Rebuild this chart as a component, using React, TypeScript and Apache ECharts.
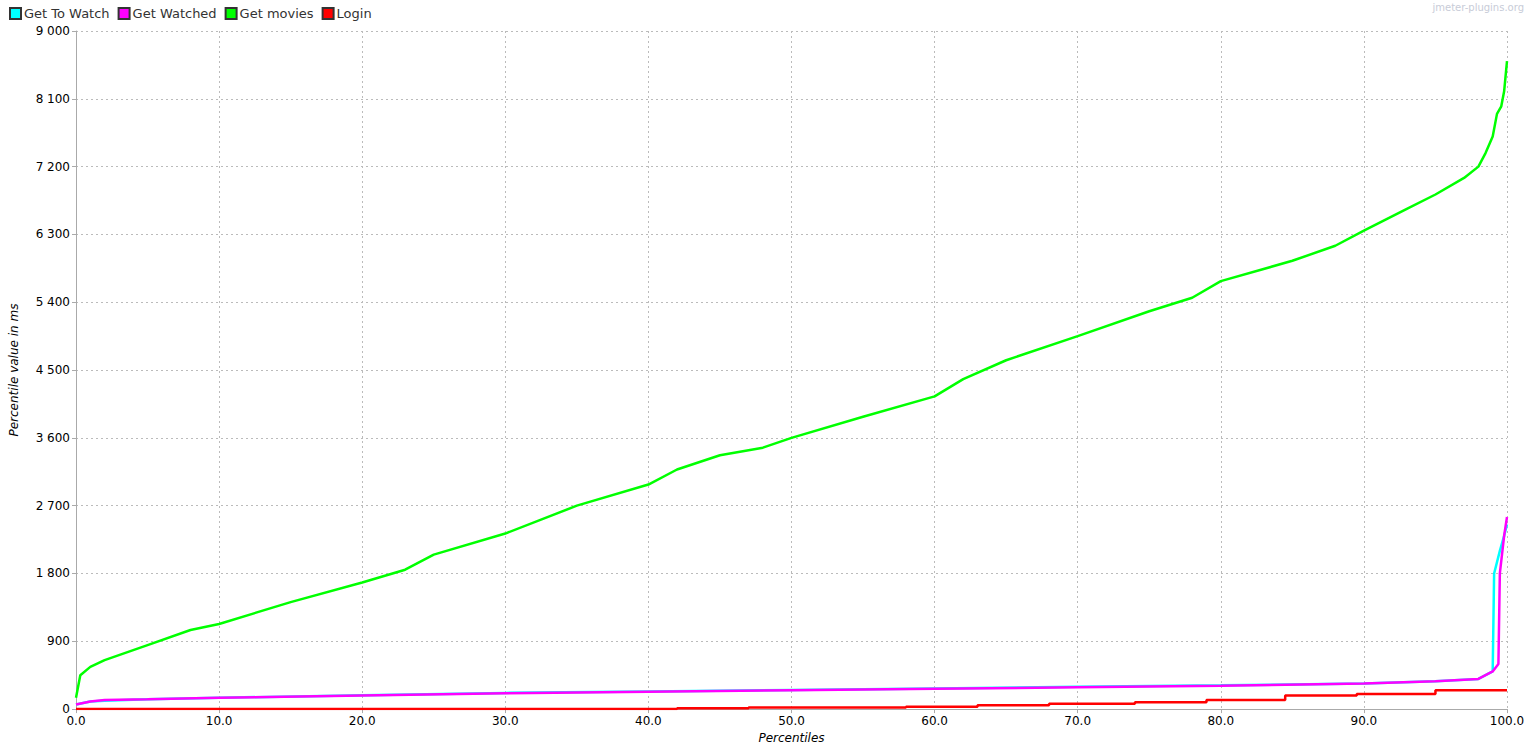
import React, { useEffect, useRef } from 'react';
import * as echarts from 'echarts';

const seriesNames = ['Get To Watch', 'Get Watched', 'Get movies', 'Login'];
const colors = ['#00ffff', '#ff00ff', '#00ff00', '#ff0000'];

const moviesPct = [0, 0.3, 1, 2, 5, 8, 10, 15, 20, 23, 25, 30, 35, 40, 42, 45, 48, 50, 55, 60, 62, 65, 70, 75, 78, 80, 85, 88, 90, 93, 95, 97, 98, 98.5, 99, 99.3, 99.6, 99.8, 100];
const moviesVal = [150, 450, 560, 650, 850, 1050, 1130, 1420, 1680, 1850, 2050, 2330, 2700, 2980, 3180, 3370, 3470, 3600, 3880, 4150, 4380, 4630, 4950, 5280, 5460, 5680, 5950, 6150, 6350, 6640, 6830, 7050, 7200, 7380, 7600, 7900, 8000, 8200, 8600];

const watchedPct = [0, 1, 2, 5, 10, 20, 30, 40, 50, 60, 70, 80, 90, 95, 98, 99, 99.4, 99.5, 99.8, 100];
const watchedVal = [60, 100, 120, 130, 150, 180, 210, 230, 250, 270, 290, 310, 340, 370, 400, 500, 600, 1800, 2300, 2550];

const toWatchPct = [0, 1, 2, 5, 10, 20, 30, 40, 50, 60, 70, 80, 90, 95, 98, 99, 99.1, 99.5, 99.8, 100];
const toWatchVal = [60, 100, 110, 130, 150, 185, 215, 235, 255, 275, 295, 315, 340, 370, 400, 500, 1800, 2100, 2300, 2450];

const loginPct = [0, 42, 47, 58, 63, 68, 74, 79, 84.5, 89.5, 95, 100];
const loginVal = [0, 10, 20, 30, 50, 70, 90, 120, 180, 200, 250, 250];

const zip = (a: number[], b: number[]) => a.map((x, i) => [x, b[i]]);

const App: React.FC = () => {
  const chartRef = useRef<HTMLDivElement>(null);

  useEffect(() => {
    document.body.style.margin = '0';
    const chart = echarts.init(chartRef.current!, undefined, { renderer: 'svg' });
    const font = 'DejaVu Sans';
    const data = [
      zip(toWatchPct, toWatchVal),
      zip(watchedPct, watchedVal),
      zip(moviesPct, moviesVal),
      zip(loginPct, loginVal)
    ];

    chart.setOption({
      animation: false,
      textStyle: { fontFamily: font },
      legend: {
        left: 4, top: 2, itemWidth: 11, itemHeight: 11, itemGap: 8,
        icon: 'rect',
        textStyle: { fontSize: 13, color: '#333', padding: [0, 0, 0, -2] },
        data: seriesNames
      },
      graphic: [{
        type: 'text', right: 6, top: 2,
        style: { text: 'jmeter-plugins.org', fill: '#c8ccd8', font: '10px DejaVu Sans' }
      }],
      grid: { left: 71, right: 23, top: 31, bottom: 39 },
      xAxis: {
        type: 'value', min: 0, max: 100, interval: 10,
        name: 'Percentiles', nameLocation: 'middle', nameGap: 20,
        nameTextStyle: { fontStyle: 'italic', fontSize: 12, color: '#000' },
        axisLine: { lineStyle: { color: '#aaa' } },
        axisTick: { lineStyle: { color: '#aaa' }, length: 4 },
        axisLabel: { color: '#000', fontSize: 12, formatter: (v: number) => v.toFixed(1), margin: 6 },
        splitLine: { lineStyle: { type: [2, 3], color: '#bbb' } }
      },
      yAxis: {
        type: 'value', min: 0, max: 9000, interval: 900,
        name: 'Percentile value in ms', nameLocation: 'middle', nameGap: 56,
        nameTextStyle: { fontStyle: 'italic', fontSize: 12, color: '#000' },
        axisLine: { show: true, lineStyle: { color: '#aaa' } },
        axisTick: { show: true, lineStyle: { color: '#aaa' }, length: 4 },
        axisLabel: {
          color: '#000', fontSize: 12, margin: 6,
          formatter: (v: number) => String(v).replace(/\B(?=(\d{3})+(?!\d))/g, ' ')
        },
        splitLine: { lineStyle: { type: [2, 3], color: '#bbb' } }
      },
      series: seriesNames.map((name, i) => ({
        name, type: 'line', data: data[i], showSymbol: false,
        step: i === 3 ? 'end' : false,
        itemStyle: { color: colors[i], borderColor: '#333', borderWidth: 0.5 },
        lineStyle: { color: colors[i], width: 2.5 }
      }))
    });

    return () => chart.dispose();
  }, []);

  return <div ref={chartRef} style={{ width: '1530px', height: '749px' }} />;
};

export default App;
